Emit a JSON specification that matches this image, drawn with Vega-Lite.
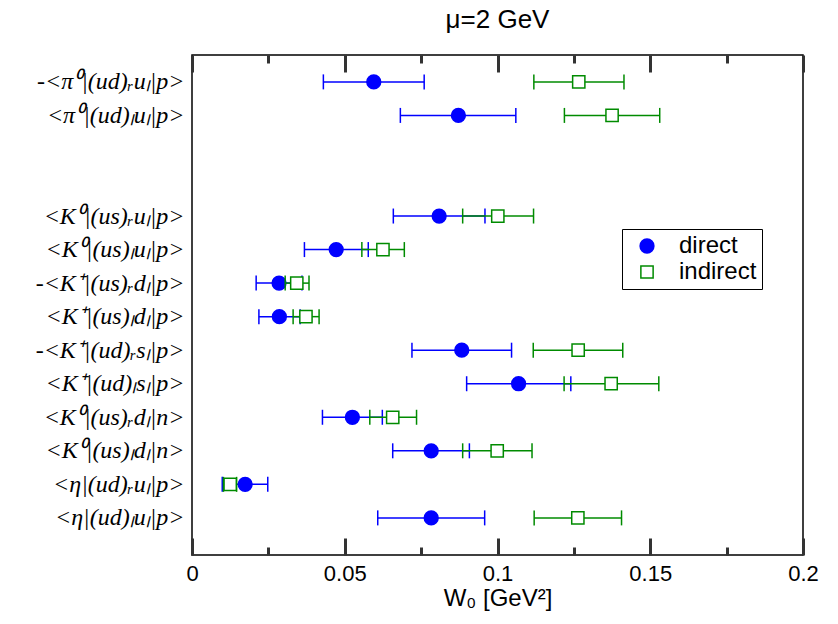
{
  "$schema": "https://vega.github.io/schema/vega-lite/v6.json",
  "width": 611,
  "height": 500,
  "autosize": "none",
  "padding": {"left": 192, "top": 55, "right": 35, "bottom": 69},
  "background": "white",
  "title": {"text": "μ=2 GeV", "font": "Liberation Sans", "fontSize": 26, "fontWeight": "normal", "color": "black", "anchor": "middle", "frame": "group", "offset": 21},
  "config": {
    "view": {"stroke": "black", "strokeWidth": 1.5},
    "axis": {"grid": false}
  },
  "data": {"values": [
    {"label": "-<π⁰|(ud)ᵣuₗ|p>", "type": "direct", "value": 0.0595, "lo": 0.0430, "hi": 0.0760},
    {"label": "-<π⁰|(ud)ᵣuₗ|p>", "type": "indirect", "value": 0.1266, "lo": 0.1119, "hi": 0.1414},
    {"label": "<π⁰|(ud)ₗuₗ|p>", "type": "direct", "value": 0.0872, "lo": 0.0682, "hi": 0.1060},
    {"label": "<π⁰|(ud)ₗuₗ|p>", "type": "indirect", "value": 0.1375, "lo": 0.1219, "hi": 0.1531},
    {"label": "<K⁰|(us)ᵣuₗ|p>", "type": "direct", "value": 0.0809, "lo": 0.0659, "hi": 0.0959},
    {"label": "<K⁰|(us)ᵣuₗ|p>", "type": "indirect", "value": 0.1001, "lo": 0.0886, "hi": 0.1118},
    {"label": "<K⁰|(us)ₗuₗ|p>", "type": "direct", "value": 0.0472, "lo": 0.0368, "hi": 0.0577},
    {"label": "<K⁰|(us)ₗuₗ|p>", "type": "indirect", "value": 0.0625, "lo": 0.0556, "hi": 0.0695},
    {"label": "-<K⁺|(us)ᵣdₗ|p>", "type": "direct", "value": 0.0285, "lo": 0.0210, "hi": 0.0360},
    {"label": "-<K⁺|(us)ᵣdₗ|p>", "type": "indirect", "value": 0.0343, "lo": 0.0305, "hi": 0.0383},
    {"label": "<K⁺|(us)ₗdₗ|p>", "type": "direct", "value": 0.0286, "lo": 0.0219, "hi": 0.0354},
    {"label": "<K⁺|(us)ₗdₗ|p>", "type": "indirect", "value": 0.0373, "lo": 0.0331, "hi": 0.0416},
    {"label": "-<K⁺|(ud)ᵣsₗ|p>", "type": "direct", "value": 0.0883, "lo": 0.0720, "hi": 0.1046},
    {"label": "-<K⁺|(ud)ᵣsₗ|p>", "type": "indirect", "value": 0.1264, "lo": 0.1117, "hi": 0.1410},
    {"label": "<K⁺|(ud)ₗsₗ|p>", "type": "direct", "value": 0.1069, "lo": 0.0899, "hi": 0.1240},
    {"label": "<K⁺|(ud)ₗsₗ|p>", "type": "indirect", "value": 0.1372, "lo": 0.1218, "hi": 0.1528},
    {"label": "<K⁰|(us)ᵣdₗ|n>", "type": "direct", "value": 0.0525, "lo": 0.0427, "hi": 0.0623},
    {"label": "<K⁰|(us)ᵣdₗ|n>", "type": "indirect", "value": 0.0657, "lo": 0.0582, "hi": 0.0735},
    {"label": "<K⁰|(us)ₗdₗ|n>", "type": "direct", "value": 0.0783, "lo": 0.0657, "hi": 0.0908},
    {"label": "<K⁰|(us)ₗdₗ|n>", "type": "indirect", "value": 0.0999, "lo": 0.0886, "hi": 0.1113},
    {"label": "<η|(ud)ᵣuₗ|p>", "type": "direct", "value": 0.0174, "lo": 0.0099, "hi": 0.0248},
    {"label": "<η|(ud)ᵣuₗ|p>", "type": "indirect", "value": 0.0125, "lo": 0.0103, "hi": 0.0146},
    {"label": "<η|(ud)ₗuₗ|p>", "type": "direct", "value": 0.0783, "lo": 0.0608, "hi": 0.0958},
    {"label": "<η|(ud)ₗuₗ|p>", "type": "indirect", "value": 0.1263, "lo": 0.1120, "hi": 0.1406}
  ]},
  "encoding": {
    "y": {
      "field": "label", "type": "nominal",
      "scale": {"type": "point", "domain": ["-<π⁰|(ud)ᵣuₗ|p>", "<π⁰|(ud)ₗuₗ|p>", " ", "  ", "<K⁰|(us)ᵣuₗ|p>", "<K⁰|(us)ₗuₗ|p>", "-<K⁺|(us)ᵣdₗ|p>", "<K⁺|(us)ₗdₗ|p>", "-<K⁺|(ud)ᵣsₗ|p>", "<K⁺|(ud)ₗsₗ|p>", "<K⁰|(us)ᵣdₗ|n>", "<K⁰|(us)ₗdₗ|n>", "<η|(ud)ᵣuₗ|p>", "<η|(ud)ₗuₗ|p>"], "padding": 0.954, "align": 0.42},
      "axis": {"title": null, "ticks": false, "domain": false, "labelFont": "Liberation Serif", "labelFontStyle": "italic", "labelFontSize": 24, "labelColor": "black", "labelPadding": 8, "labelLimit": 400}
    }
  },
  "resolve": {"axis": {"x": "independent"}},
  "layer": [
    {
      "transform": [{"filter": "datum.type === 'direct'"}],
      "mark": {"type": "rule", "color": "#0000ff", "strokeWidth": 1.5},
      "encoding": {
        "x": {"field": "lo", "type": "quantitative", "scale": {"domain": [0, 0.2], "nice": false, "zero": false},
          "axis": {"orient": "bottom", "offset": -17, "values": [0, 0.05, 0.1, 0.15, 0.2], "format": "~g", "tickSize": 17, "tickColor": "#333333", "tickWidth": 3, "domainOpacity": 0, "labelFont": "Liberation Sans", "labelFontSize": 22, "labelColor": "black", "labelPadding": 8, "labelFlush": false, "labelOverlap": false, "title": "W₀ [GeV²]", "titleFont": "Liberation Sans", "titleFontSize": 24, "titleFontWeight": "normal", "titleColor": "black", "titlePadding": 2}},
        "x2": {"field": "hi"}
      }
    },
    {
      "transform": [{"filter": "datum.type === 'direct'"}],
      "mark": {"type": "tick", "color": "#0000ff", "orient": "vertical", "size": 15, "thickness": 1.5, "opacity": 1},
      "encoding": {
        "x": {"field": "lo", "type": "quantitative", "scale": {"domain": [0, 0.2], "nice": false, "zero": false},
          "axis": {"orient": "bottom", "values": [0.025, 0.075, 0.125, 0.175], "labels": false, "domainOpacity": 0, "tickSize": -8, "tickColor": "#333333", "tickWidth": 3, "title": null}}
      }
    },
    {
      "transform": [{"filter": "datum.type === 'direct'"}],
      "mark": {"type": "tick", "color": "#0000ff", "orient": "vertical", "size": 15, "thickness": 1.5, "opacity": 1},
      "encoding": {
        "x": {"field": "hi", "type": "quantitative", "scale": {"domain": [0, 0.2], "nice": false, "zero": false},
          "axis": {"orient": "top", "values": [0, 0.05, 0.1, 0.15, 0.2], "labels": false, "domainOpacity": 0, "tickSize": -17, "tickColor": "#333333", "tickWidth": 3, "title": null}}
      }
    },
    {
      "transform": [{"filter": "datum.type === 'direct'"}],
      "mark": {"type": "point", "opacity": 1, "strokeWidth": 1.5},
      "encoding": {
        "x": {"field": "value", "type": "quantitative", "scale": {"domain": [0, 0.2], "nice": false, "zero": false},
          "axis": {"orient": "top", "offset": -8, "values": [0.025, 0.075, 0.125, 0.175], "labels": false, "domainOpacity": 0, "tickSize": 8, "tickColor": "#333333", "tickWidth": 3, "title": null}},
        "shape": {"field": "type", "type": "nominal", "scale": {"domain": ["direct", "indirect"], "range": ["circle", "square"]}, "legend": {"title": null, "orient": "none", "legendX": 430, "legendY": 174, "strokeColor": "black", "padding": 5, "symbolOffset": 8, "labelFont": "Liberation Sans", "labelFontSize": 24, "labelColor": "black", "labelOffset": 20, "symbolStrokeWidth": 1.5}},
        "fill": {"field": "type", "type": "nominal", "scale": {"domain": ["direct", "indirect"], "range": ["#0000ff", "white"]}, "legend": {"title": null, "orient": "none", "legendX": 430, "legendY": 174, "strokeColor": "black", "padding": 5, "symbolOffset": 8, "labelFont": "Liberation Sans", "labelFontSize": 24, "labelColor": "black", "labelOffset": 20, "symbolStrokeWidth": 1.5}},
        "stroke": {"field": "type", "type": "nominal", "scale": {"domain": ["direct", "indirect"], "range": ["#0000ff", "#008b00"]}, "legend": {"title": null, "orient": "none", "legendX": 430, "legendY": 174, "strokeColor": "black", "padding": 5, "symbolOffset": 8, "labelFont": "Liberation Sans", "labelFontSize": 24, "labelColor": "black", "labelOffset": 20, "symbolStrokeWidth": 1.5}},
        "size": {"field": "type", "type": "nominal", "scale": {"domain": ["direct", "indirect"], "range": [190, 150]}, "legend": {"title": null, "orient": "none", "legendX": 430, "legendY": 174, "strokeColor": "black", "padding": 5, "symbolOffset": 8, "labelFont": "Liberation Sans", "labelFontSize": 24, "labelColor": "black", "labelOffset": 20, "symbolStrokeWidth": 1.5}}
      }
    },
    {
      "transform": [{"filter": "datum.type === 'indirect'"}],
      "mark": {"type": "rule", "color": "#008b00", "strokeWidth": 1.5},
      "encoding": {
        "x": {"field": "lo", "type": "quantitative", "scale": {"domain": [0, 0.2], "nice": false, "zero": false}, "axis": null},
        "x2": {"field": "hi"}
      }
    },
    {
      "transform": [{"filter": "datum.type === 'indirect'"}],
      "mark": {"type": "tick", "color": "#008b00", "orient": "vertical", "size": 15, "thickness": 1.5, "opacity": 1},
      "encoding": {
        "x": {"field": "lo", "type": "quantitative", "scale": {"domain": [0, 0.2], "nice": false, "zero": false}, "axis": null}
      }
    },
    {
      "transform": [{"filter": "datum.type === 'indirect'"}],
      "mark": {"type": "tick", "color": "#008b00", "orient": "vertical", "size": 15, "thickness": 1.5, "opacity": 1},
      "encoding": {
        "x": {"field": "hi", "type": "quantitative", "scale": {"domain": [0, 0.2], "nice": false, "zero": false}, "axis": null}
      }
    },
    {
      "transform": [{"filter": "datum.type === 'indirect'"}],
      "mark": {"type": "point", "opacity": 1, "strokeWidth": 1.5},
      "encoding": {
        "x": {"field": "value", "type": "quantitative", "scale": {"domain": [0, 0.2], "nice": false, "zero": false}, "axis": null},
        "shape": {"field": "type", "type": "nominal", "scale": {"domain": ["direct", "indirect"], "range": ["circle", "square"]}, "legend": {"title": null, "orient": "none", "legendX": 430, "legendY": 174, "strokeColor": "black", "padding": 5, "symbolOffset": 8, "labelFont": "Liberation Sans", "labelFontSize": 24, "labelColor": "black", "labelOffset": 20, "symbolStrokeWidth": 1.5}},
        "fill": {"field": "type", "type": "nominal", "scale": {"domain": ["direct", "indirect"], "range": ["#0000ff", "white"]}, "legend": {"title": null, "orient": "none", "legendX": 430, "legendY": 174, "strokeColor": "black", "padding": 5, "symbolOffset": 8, "labelFont": "Liberation Sans", "labelFontSize": 24, "labelColor": "black", "labelOffset": 20, "symbolStrokeWidth": 1.5}},
        "stroke": {"field": "type", "type": "nominal", "scale": {"domain": ["direct", "indirect"], "range": ["#0000ff", "#008b00"]}, "legend": {"title": null, "orient": "none", "legendX": 430, "legendY": 174, "strokeColor": "black", "padding": 5, "symbolOffset": 8, "labelFont": "Liberation Sans", "labelFontSize": 24, "labelColor": "black", "labelOffset": 20, "symbolStrokeWidth": 1.5}},
        "size": {"field": "type", "type": "nominal", "scale": {"domain": ["direct", "indirect"], "range": [190, 150]}, "legend": {"title": null, "orient": "none", "legendX": 430, "legendY": 174, "strokeColor": "black", "padding": 5, "symbolOffset": 8, "labelFont": "Liberation Sans", "labelFontSize": 24, "labelColor": "black", "labelOffset": 20, "symbolStrokeWidth": 1.5}}
      }
    }
  ]
}
